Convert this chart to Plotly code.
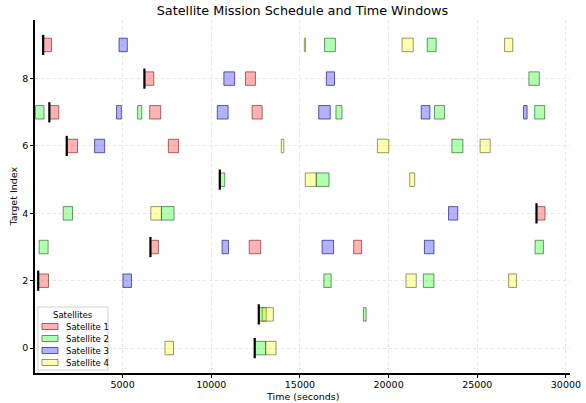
import plotly.graph_objects as go

# Visibility windows per satellite: target index, window start, window end (seconds)
sat1_target = [9, 8, 8, 7, 7, 7, 6, 6, 4, 3, 3, 3, 2]
sat1_start = [524, 6240, 11930, 870, 6530, 12300, 1850, 7580, 28340, 6570, 12140, 18030, 240]
sat1_end = [990, 6760, 12490, 1400, 7150, 12870, 2460, 8150, 28820, 7020, 12790, 18480, 820]

sat2_target = [9, 9, 8, 7, 7, 7, 7, 7, 6, 5, 5, 4, 4, 3, 3, 2, 2, 1, 1, 0]
sat2_start = [16390, 22180, 27910, 80, 5850, 17030, 22590, 28240, 23570, 10490, 15920,
              1650, 7190, 290, 28260, 16350, 21960, 12680, 18580, 12450]
sat2_end = [17000, 22680, 28500, 570, 6080, 17370, 23150, 28800, 24190, 10760, 16640,
            2180, 7900, 800, 28730, 16760, 22560, 13100, 18730, 13070]

sat3_target = [9, 8, 8, 7, 7, 7, 7, 7, 6, 4, 3, 3, 3, 2]
sat3_start = [4800, 10710, 16490, 4660, 10340, 16060, 21840, 27610, 3420, 23380, 10610, 16250, 22020, 5020]
sat3_end = [5265, 11320, 16950, 4930, 10950, 16710, 22330, 27810, 3990, 23900, 10970, 16900, 22560, 5500]

sat4_target = [9, 9, 9, 6, 6, 6, 5, 5, 4, 2, 2, 1, 0, 0]
sat4_start = [15250, 20760, 26540, 13950, 19370, 25160, 15300, 21190, 6590, 20980, 26770, 12870, 7390, 13070]
sat4_end = [15320, 21390, 27000, 14090, 20010, 25730, 15920, 21470, 7190, 21560, 27210, 13500, 7870, 13650]

# Scheduled observation start per target
sched_target = [9, 8, 7, 6, 5, 4, 3, 2, 1, 0]
sched_time = [520, 6230, 870, 1850, 10480, 28340, 6570, 240, 12680, 12450]

x_ticks = [5000, 10000, 15000, 20000, 25000, 30000]
y_ticks = [0, 2, 4, 6, 8]

satellites = [
    ("Satellite 1", sat1_target, sat1_start, sat1_end, "rgba(255,0,0,0.3)", "rgba(90,0,0,0.55)"),
    ("Satellite 2", sat2_target, sat2_start, sat2_end, "rgba(0,255,0,0.3)", "rgba(0,70,0,0.55)"),
    ("Satellite 3", sat3_target, sat3_start, sat3_end, "rgba(0,0,255,0.3)", "rgba(0,0,90,0.6)"),
    ("Satellite 4", sat4_target, sat4_start, sat4_end, "rgba(255,255,0,0.3)", "rgba(70,70,0,0.55)"),
]

W, H = 586, 403
M_L, M_R, M_T, M_B = 35, 16, 20, 30
PW, PH = W - M_L - M_R, H - M_T - M_B


def px_to_paper(px, py):
    """Convert page pixel position to paper coordinates of the plot area."""
    return (px - M_L) / PW, (H - M_B - py) / PH


fig = go.Figure()

for name, tgt, st, en, fill, edge in satellites:
    fig.add_trace(go.Bar(
        name=name,
        orientation="h",
        y=tgt,
        base=st,
        x=[e - s for s, e in zip(st, en)],
        width=0.4,
        marker=dict(color=fill, line=dict(color=edge, width=1)),
        showlegend=False,
    ))

# Scheduled times as short black vertical markers
lx, ly = [], []
for t, tm in zip(sched_target, sched_time):
    lx += [tm, tm, None]
    ly += [t - 0.3, t + 0.3, None]
fig.add_trace(go.Scatter(x=lx, y=ly, mode="lines", line=dict(color="black", width=2.2),
                         showlegend=False, hoverinfo="skip"))

font_family = "DejaVu Sans, sans-serif"

# Compact legend box in the lower-left corner
shapes, annotations = [], []
bx0, by0 = px_to_paper(38, 370)
bx1, by1 = px_to_paper(108, 307)
shapes.append(dict(type="rect", xref="paper", yref="paper", x0=bx0, y0=by0, x1=bx1, y1=by1,
                   fillcolor="rgba(255,255,255,0.85)", line=dict(color="#d0d0d0", width=1), layer="above"))
tx, ty = px_to_paper(73, 314.5)
annotations.append(dict(text="Satellites", xref="paper", yref="paper", x=tx, y=ty,
                        showarrow=False, xanchor="center", yanchor="middle",
                        font=dict(size=8.5, color="black")))
for i, (name, _, _, _, fill, edge) in enumerate(satellites):
    cy = 326.5 + 12 * i
    sx0, sy0 = px_to_paper(42, cy + 3)
    sx1, sy1 = px_to_paper(58, cy - 3)
    shapes.append(dict(type="rect", xref="paper", yref="paper", x0=sx0, y0=sy0, x1=sx1, y1=sy1,
                       fillcolor=fill, line=dict(color=edge, width=1), layer="above"))
    lx0, ly0 = px_to_paper(64, cy)
    annotations.append(dict(text=name, xref="paper", yref="paper", x=lx0, y=ly0,
                            showarrow=False, xanchor="left", yanchor="middle",
                            font=dict(size=8.5, color="black")))

# Axis titles placed just outside the tick labels
axt_x, axt_y = px_to_paper((M_L + W - M_R) / 2, 396)
annotations.append(dict(text="Time (seconds)", xref="paper", yref="paper", x=axt_x, y=axt_y,
                        showarrow=False, xanchor="center", yanchor="middle",
                        font=dict(size=9.5, color="black")))
ayt_x, ayt_y = px_to_paper(13, (M_T + H - M_B) / 2)
annotations.append(dict(text="Target Index", xref="paper", yref="paper", x=ayt_x, y=ayt_y,
                        showarrow=False, xanchor="center", yanchor="middle", textangle=-90,
                        font=dict(size=9.5, color="black")))

fig.update_layout(
    width=W, height=H,
    barmode="overlay",
    plot_bgcolor="white", paper_bgcolor="white",
    margin=dict(l=M_L, r=M_R, t=M_T, b=M_B, autoexpand=False),
    font=dict(family=font_family, size=10, color="black"),
    title=dict(text="Satellite Mission Schedule and Time Windows", xref="paper", x=0.5, xanchor="center",
               y=0.975, yanchor="middle", font=dict(size=12.8, color="black")),
    shapes=shapes,
    annotations=annotations,
    showlegend=False,
)

fig.update_xaxes(
    range=[60, 30230], tickvals=x_ticks, ticktext=[str(v) for v in x_ticks],
    showgrid=True, gridcolor="#e6e6e6", griddash="dot", gridwidth=1,
    showline=True, linecolor="black", linewidth=1.5, mirror=False,
    ticks="outside", ticklen=3, tickcolor="black", zeroline=False, automargin=False,
    tickfont=dict(size=9.5), ticklabelstandoff=-1,
)
fig.update_yaxes(
    range=[-0.74, 9.74], tickvals=y_ticks, ticktext=[str(v) for v in y_ticks],
    showgrid=True, gridcolor="#e6e6e6", griddash="dot", gridwidth=1,
    showline=True, linecolor="black", linewidth=1.5, mirror=False,
    ticks="outside", ticklen=3, tickcolor="black", zeroline=False, automargin=False,
    tickfont=dict(size=9.5),
)

fig.write_html("out.html")
